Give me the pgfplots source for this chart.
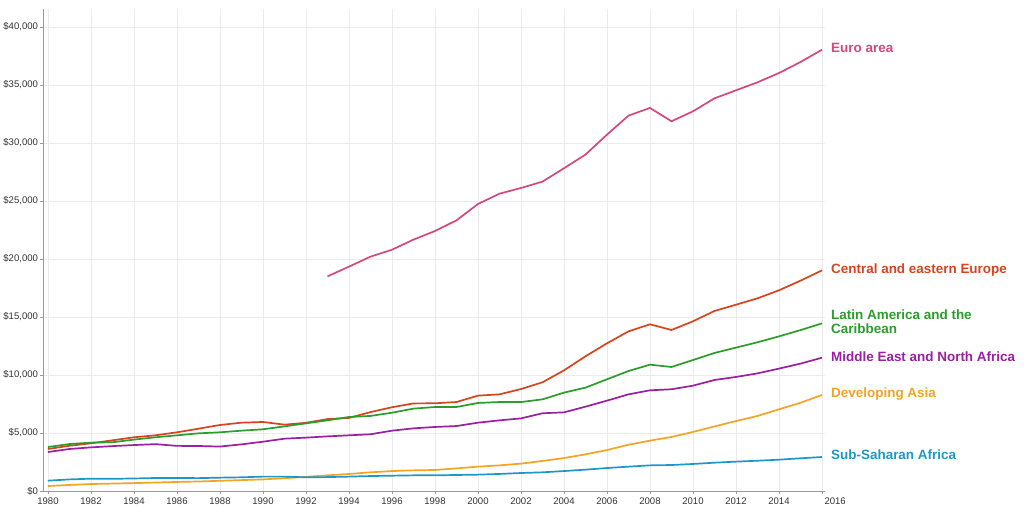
\documentclass[border=0pt]{standalone}
\usepackage{fontspec}
\setmainfont{Liberation Sans}
\usepackage{pgfplots}
\usepackage{pgfplotstable}
\pgfplotsset{compat=1.18}
\definecolor{euro}{HTML}{D6477D}
\definecolor{cee}{HTML}{D8431E}
\definecolor{latam}{HTML}{2A9D2A}
\definecolor{mena}{HTML}{9A1FA2}
\definecolor{asia}{HTML}{F5A322}
\definecolor{ssa}{HTML}{1C98C6}
\definecolor{tick}{HTML}{333333}

\pgfplotstableread{
year val
1993 18500
1994 19340
1995 20200
1996 20800
1997 21670
1998 22410
1999 23330
2000 24740
2001 25630
2002 26120
2003 26670
2004 27820
2005 29000
2006 30720
2007 32360
2008 33020
2009 31870
2010 32730
2011 33850
2012 34540
2013 35230
2014 36030
2015 36980
2016 38040
}\euroarea

\pgfplotstableread{
year cee latam mena asia ssa
1980 3620 3790 3360 430 890
1981 3900 4050 3620 520 1000
1982 4110 4170 3760 600 1060
1983 4370 4200 3870 640 1050
1984 4630 4430 3960 680 1080
1985 4800 4630 4040 730 1120
1986 5060 4800 3890 780 1120
1987 5370 4970 3880 820 1110
1988 5690 5060 3830 880 1150
1989 5890 5200 4020 940 1180
1990 5950 5320 4250 1000 1240
1991 5720 5570 4510 1100 1240
1992 5880 5830 4600 1220 1180
1993 6200 6090 4710 1350 1200
1994 6300 6380 4800 1470 1240
1995 6800 6470 4890 1610 1290
1996 7220 6750 5200 1720 1320
1997 7550 7100 5400 1780 1350
1998 7560 7240 5520 1810 1350
1999 7670 7240 5600 1950 1380
2000 8220 7590 5890 2100 1410
2001 8330 7670 6090 2210 1470
2002 8790 7670 6260 2360 1550
2003 9370 7900 6700 2590 1610
2004 10400 8480 6780 2840 1720
2005 11610 8910 7270 3160 1840
2006 12730 9630 7790 3530 1980
2007 13760 10340 8330 3990 2100
2008 14370 10890 8680 4340 2210
2009 13880 10690 8770 4660 2240
2010 14630 11290 9080 5090 2330
2011 15520 11900 9570 5570 2440
2012 16060 12360 9830 6030 2530
2013 16610 12820 10140 6470 2610
2014 17300 13330 10550 7040 2700
2015 18130 13870 10980 7610 2820
2016 19020 14450 11490 8280 2930
}\regions

\begin{document}
\begin{tikzpicture}
\useasboundingbox (0,0) rectangle (1024bp,513bp);
\begin{axis}[
  at={(43bp,22bp)}, anchor=south west,
  scale only axis, width=782bp, height=482bp,
  xmin=1979.77, xmax=2016.14, ymin=0, ymax=41550,
  axis lines*=left,
  axis line style={draw=black!40, line width=0.8bp},
  tick align=outside, major tick length=3bp,
  tick style={draw=black!40, line width=0.6bp},
  xtick={1980,1982,...,2014},
  extra x ticks={2016},
  extra x tick style={xticklabel style={anchor=north west, xshift=-1bp}},
  ytick={0,5000,...,40000},
  grid=major,
  grid style={draw=black!8, line width=0.6bp},
  /pgf/number format/assume math mode=true,
  ticklabel style={font=\fontsize{9.6}{11}\selectfont, text=tick},
  xticklabel style={/pgf/number format/1000 sep={}},
  yticklabel style={xshift=1.5bp},
  yticklabel={\$\pgfmathprintnumber[fixed,1000 sep={,}]{\tick}},
  scaled y ticks=false,
  clip=false,
  every axis plot/.append style={line width=1.7bp, no markers},
]
\addplot[euro] table[x=year,y=val] {\euroarea};
\addplot[cee] table[x=year,y=cee] {\regions};
\addplot[latam] table[x=year,y=latam] {\regions};
\addplot[mena] table[x=year,y=mena] {\regions};
\addplot[asia] table[x=year,y=asia] {\regions};
\addplot[ssa] table[x=year,y=ssa] {\regions};

\tikzset{lab/.style={anchor=base west, inner sep=0pt, font=\bfseries\fontsize{13.5}{15}\selectfont}}
\node[lab, text=euro] at (axis cs:2016.42,37790) {Euro area};
\node[lab, text=cee] at (axis cs:2016.42,18740) {Central and eastern Europe};
\node[lab, text=latam] at (axis cs:2016.42,14780) {Latin America and the};
\node[lab, text=latam] at (axis cs:2016.42,13570) {Caribbean};
\node[lab, text=mena] at (axis cs:2016.42,11150) {Middle East and North Africa};
\node[lab, text=asia] at (axis cs:2016.42,8050) {Developing Asia};
\node[lab, text=ssa] at (axis cs:2016.42,2710) {Sub-Saharan Africa};
\end{axis}
\end{tikzpicture}
\end{document}
